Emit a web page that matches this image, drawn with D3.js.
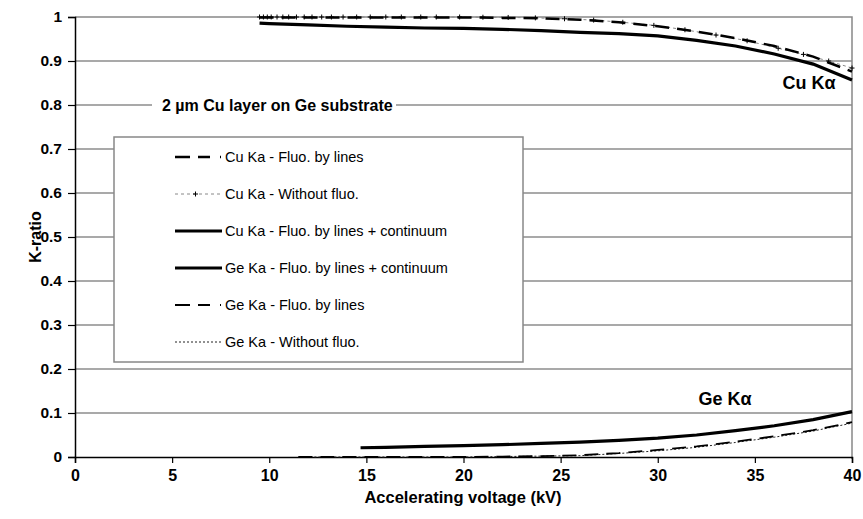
<!DOCTYPE html>
<html><head><meta charset="utf-8">
<script src="https://cdn.jsdelivr.net/npm/d3@7"></script>
<style>body{margin:0;background:#fff}svg{display:block}text{font-family:"Liberation Sans",Arial,sans-serif}</style>
</head><body><svg id="c" width="863" height="519"></svg>
<script>
// ---- data ----
const xTicks = [0,5,10,15,20,25,30,35,40];
const yTicks = [0,0.1,0.2,0.3,0.4,0.5,0.6,0.7,0.8,0.9,1];
const yTickLabels = ["0","0.1","0.2","0.3","0.4","0.5","0.6","0.7","0.8","0.9","1"];

const cuNoFluoV = [9.5,9.7,9.9,10.1,10.4,10.7,11,11.4,11.8,12.2,12.7,13.2,13.8,14.5,15.2,16,16.8,17.8,18.6,19.8,21,22.3,23.7,25.2,26.7,28.2,29.8,31.4,33,34.6,36.2,37.5,38.8,40];
const cuNoFluoK = [1,1,1,1,1,1,1,1,1,1,1,1,1,1,1,1,1,1,1,1,0.9995,0.999,0.998,0.996,0.993,0.988,0.981,0.971,0.959,0.946,0.929,0.915,0.9,0.884];

const cuV = [9.5,10,12,14,16,18,20,22,24,26,28,30,32,34,36,38,40];
const cuLinesK = [0.999,0.999,0.999,0.999,0.999,0.999,0.999,0.998,0.997,0.994,0.988,0.979,0.967,0.952,0.934,0.91,0.876];
const cuContK = [0.986,0.985,0.982,0.979,0.977,0.975,0.974,0.972,0.969,0.965,0.962,0.957,0.947,0.934,0.916,0.893,0.857];

const geV = [11.5,14,16,18,20,22,24,26,28,30,32,34,36,38,40];
const geLinesK = [0,0,0,0,0,0.001,0.002,0.004,0.009,0.016,0.024,0.035,0.047,0.061,0.079];
const geNoFluoK = [0,0,0,0,0,0.001,0.002,0.003,0.008,0.014,0.022,0.033,0.045,0.059,0.077];
const geContV = [14.7,16,18,20,22,24,26,28,30,32,34,36,38,40];
const geContK = [0.021,0.022,0.024,0.026,0.028,0.031,0.034,0.038,0.043,0.05,0.06,0.071,0.085,0.103];

const legendLabels = ["Cu Ka - Fluo. by lines","Cu Ka - Without fluo.","Cu Ka - Fluo. by lines + continuum","Ge Ka - Fluo. by lines + continuum","Ge Ka - Fluo. by lines","Ge Ka - Without fluo."];

// ---- drawing ----
const svg = d3.select("#c");
const x = d3.scaleLinear().domain([0,40]).range([75,852]);
const y = d3.scaleLinear().domain([0,1]).range([457,17]);

// gridlines
svg.append("g").selectAll("line").data(yTicks.filter(d=>d>0 && d<1)).join("line")
  .attr("x1",x(0)).attr("x2",x(40)).attr("y1",d=>y(d)).attr("y2",d=>y(d))
  .attr("stroke","#555").attr("stroke-width",1.2);
// frame top/right
svg.append("path").attr("d",`M${x(0)},${y(1)}H${x(40)}V${y(0)+2}`).attr("fill","none").attr("stroke","#888").attr("stroke-width",1.5);

// axes
const yAxis = d3.axisLeft(y).tickValues(yTicks).tickFormat((d,i)=>yTickLabels[i]).tickSize(7).tickPadding(6);
const gy = svg.append("g").attr("transform",`translate(${x(0)},0)`).call(yAxis);
const xAxis = d3.axisBottom(x).tickValues(xTicks).tickSize(6).tickPadding(7);
const gx = svg.append("g").attr("transform",`translate(0,${y(0)})`).call(xAxis);
[gx,gy].forEach(g=>{
  g.select(".domain").attr("stroke","#000").attr("stroke-width",1.5);
  g.selectAll(".tick line").attr("stroke","#000").attr("stroke-width",1.2);
  g.selectAll(".tick text").attr("font-weight","bold").attr("fill","#000").attr("font-family","Liberation Sans, Arial");
});
gy.selectAll(".tick text").attr("font-size",15.5);
gx.selectAll(".tick text").attr("font-size",16);

svg.append("text").attr("x",463).attr("y",503).attr("text-anchor","middle").attr("font-size",16.5).attr("font-weight","bold").text("Accelerating voltage (kV)");
svg.append("text").attr("transform","translate(41,237) rotate(-90)").attr("text-anchor","middle").attr("font-size",16).attr("font-weight","bold").text("K-ratio");

// annotation
svg.append("rect").attr("x",152).attr("y",96).attr("width",244).attr("height",20).attr("fill","#fff");
svg.append("text").attr("x",162).attr("y",111).attr("font-size",16).attr("font-weight","bold").text("2 \u00b5m Cu layer on Ge substrate");
svg.append("text").attr("x",809).attr("y",89).attr("text-anchor","middle").attr("font-size",18).attr("font-weight","bold").text("Cu K\u03b1");
svg.append("text").attr("x",725).attr("y",405).attr("text-anchor","middle").attr("font-size",18).attr("font-weight","bold").text("Ge K\u03b1");

// lines
const line = d3.line().x(d=>x(d[0])).y(d=>y(d[1]));
const zip = (a,b)=>a.map((v,i)=>[v,b[i]]);
const styles = [
  {stroke:"#000", w:2.5, dash:"14,8"},            // Cu lines
  {stroke:"#888", w:1, dash:"3,3"},               // Cu no fluo
  {stroke:"#000", w:3.2, dash:null},              // Cu cont
  {stroke:"#000", w:3.2, dash:null},              // Ge cont
  {stroke:"#000", w:1.8, dash:"14,8"},            // Ge lines
  {stroke:"#222", w:1, dash:"2,2"}                // Ge no fluo
];
const series = [zip(cuV,cuLinesK), zip(cuNoFluoV,cuNoFluoK), zip(cuV,cuContK), zip(geContV,geContK), zip(geV,geLinesK), zip(geV,geNoFluoK)];
const drawOrder = [5,4,3,1,0,2];
drawOrder.forEach(i=>{
  const s = styles[i];
  svg.append("path").datum(series[i]).attr("d",line).attr("fill","none")
    .attr("stroke",s.stroke).attr("stroke-width",s.w).attr("stroke-dasharray",s.dash);
});
// + markers for Cu without fluo
svg.append("g").selectAll("path").data(series[1]).join("path")
  .attr("d",d=>`M${x(d[0])-2.5},${y(d[1])}h5M${x(d[0])},${y(d[1])-2.5}v5`)
  .attr("stroke","#000").attr("stroke-width",1);

// legend
svg.append("rect").attr("x",114).attr("y",137).attr("width",409).attr("height",225).attr("fill","#fff").attr("stroke","#888").attr("stroke-width",1.5);
const lg = svg.append("g").selectAll("g").data(legendLabels).join("g")
  .attr("transform",(d,i)=>`translate(0,${157+i*37})`);
lg.append("line").attr("x1",175).attr("x2",222).attr("y1",0).attr("y2",0)
  .attr("stroke",(d,i)=>styles[i].stroke).attr("stroke-width",(d,i)=>styles[i].w)
  .attr("stroke-dasharray",(d,i)=>styles[i].dash?(i===0||i===4?"15,8,12,10,1,10":styles[i].dash):null);
lg.filter((d,i)=>i===1).append("path").attr("d","M195.5,-2.5v5M193,0h5").attr("stroke","#000").attr("stroke-width",1);
lg.append("text").attr("x",225).attr("y",5).attr("font-size",14.5).text(d=>d);
</script></body></html>
